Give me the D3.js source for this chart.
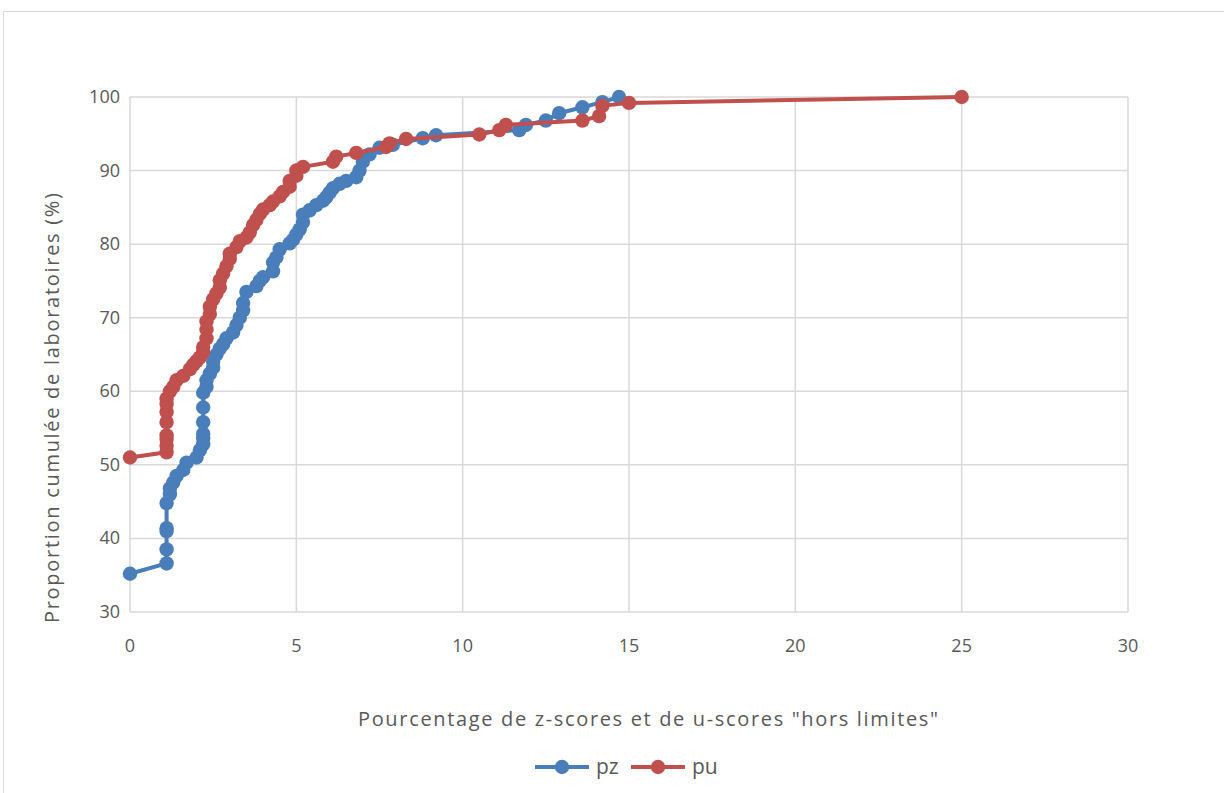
<!DOCTYPE html>
<html><head><meta charset="utf-8">
<script src="https://cdn.jsdelivr.net/npm/d3@7"></script>
<style>body{margin:0;background:#fff}svg{display:block}text{font-family:"Open Sans","Noto Sans",sans-serif;fill:#595959}</style>
</head><body><svg id="c" width="1224" height="793"></svg>
<script>
const pzX=[0,1.1,1.1,1.1,1.1,1.1,1.2,1.2,1.3,1.4,1.6,1.7,2.0,2.1,2.2,2.2,2.2,2.2,2.2,2.2,2.3,2.3,2.4,2.5,2.5,2.6,2.7,2.8,2.9,3.1,3.2,3.3,3.4,3.4,3.5,3.8,3.9,4.0,4.3,4.3,4.4,4.5,4.8,4.9,5.0,5.1,5.2,5.2,5.4,5.6,5.8,5.9,6.0,6.1,6.3,6.5,6.8,6.9,7.0,7.2,7.5,7.9,8.8,9.2,11.7,11.9,12.5,12.9,13.6,14.2,14.7];
const pzY=[35.2,36.6,38.5,41.0,41.4,44.8,46.0,46.8,47.6,48.5,49.3,50.3,51.0,52.0,52.8,53.6,54.2,55.8,57.8,59.8,60.6,61.5,62.4,63.2,64.0,65.0,65.8,66.4,67.2,68.0,69.0,70.0,71.0,72.0,73.5,74.3,75.0,75.5,76.3,77.5,78.2,79.3,80.1,80.6,81.3,82.0,83.0,84.0,84.6,85.3,85.9,86.4,87.0,87.6,88.2,88.6,89.1,90.0,91.2,92.2,93.1,93.5,94.4,94.8,95.5,96.2,96.8,97.8,98.6,99.3,100];
const puX=[0,1.1,1.1,1.1,1.1,1.1,1.1,1.1,1.1,1.2,1.3,1.4,1.6,1.8,1.9,2.0,2.1,2.2,2.2,2.3,2.3,2.3,2.4,2.4,2.5,2.6,2.7,2.7,2.8,2.9,3.0,3.0,3.2,3.3,3.5,3.6,3.7,3.8,3.9,4.0,4.2,4.3,4.5,4.6,4.8,4.8,5.0,5.0,5.2,6.1,6.2,6.8,7.7,7.8,8.3,10.5,11.1,11.3,13.6,14.1,14.2,15.0,25];
const puY=[51.0,51.7,52.6,53.5,54.0,55.8,57.2,58.3,59.0,60.0,60.6,61.5,62.1,63.0,63.6,64.1,64.6,65.3,66.0,67.2,68.4,69.5,70.5,71.5,72.5,73.3,74.1,75.1,76.0,77.0,78.0,78.7,79.6,80.4,80.9,81.6,82.6,83.3,84.1,84.7,85.3,85.8,86.5,87.1,87.8,88.6,89.3,90.0,90.5,91.2,91.9,92.4,93.2,93.7,94.3,94.9,95.5,96.2,96.8,97.4,98.8,99.2,100];
const xTicks=[0,5,10,15,20,25,30];
const yTicks=[30,40,50,60,70,80,90,100];
const seriesNames=["pz","pu"];
const colors=["#4a7ebb","#c0504d"];
const xTitle='Pourcentage de z-scores et de u-scores "hors limites"';
const yTitle='Proportion cumulée de laboratoires (%)';

const svg=d3.select("#c");
svg.append("rect").attr("x",3.5).attr("y",11.5).attr("width",1240).attr("height",800).attr("fill","#fff").attr("stroke","#d9d9d9");
const x=d3.scaleLinear().domain([0,30]).range([130,1128]);
const y=d3.scaleLinear().domain([30,100]).range([612,97]);
const g=svg.append("g");
g.selectAll(".hg").data(yTicks).join("line").attr("x1",x(0)).attr("x2",x(30)).attr("y1",d=>y(d)).attr("y2",d=>y(d)).attr("stroke","#d9d9d9").attr("stroke-width",1.5);
g.selectAll(".vg").data(xTicks).join("line").attr("y1",y(30)).attr("y2",y(100)).attr("x1",d=>x(d)).attr("x2",d=>x(d)).attr("stroke","#d9d9d9").attr("stroke-width",1.5);
g.selectAll(".yt").data(yTicks).join("text").attr("x",120).attr("y",d=>y(d)+6).attr("text-anchor","end").attr("font-size",18).text(d=>d);
g.selectAll(".xt").data(xTicks).join("text").attr("x",d=>x(d)).attr("y",652).attr("text-anchor","middle").attr("font-size",18).text(d=>d);
svg.append("text").attr("x",648).attr("y",726).attr("text-anchor","middle").attr("font-size",20).attr("textLength",580).attr("lengthAdjust","spacing").text(xTitle);
svg.append("text").attr("transform","translate(59,408) rotate(-90)").attr("text-anchor","middle").attr("font-size",20).attr("textLength",430).attr("lengthAdjust","spacing").text(yTitle);

const series=[d3.zip(pzX,pzY),d3.zip(puX,puY)];
const line=d3.line().x(d=>x(d[0])).y(d=>y(d[1]));
series.forEach((s,i)=>{
  svg.append("path").attr("d",line(s)).attr("fill","none").attr("stroke",colors[i]).attr("stroke-width",4).attr("stroke-linejoin","round");
  svg.append("g").selectAll("circle").data(s).join("circle").attr("cx",d=>x(d[0])).attr("cy",d=>y(d[1])).attr("r",7.2).attr("fill",colors[i]);
});
const lx=[535,631];
seriesNames.forEach((n,i)=>{
  const lg=svg.append("g").attr("transform",`translate(${lx[i]},767)`);
  lg.append("line").attr("x1",0).attr("x2",54).attr("stroke",colors[i]).attr("stroke-width",4);
  lg.append("circle").attr("cx",27).attr("r",7.2).attr("fill",colors[i]);
  lg.append("text").attr("x",61).attr("y",7).attr("font-size",21).text(n);
});
</script></body></html>
